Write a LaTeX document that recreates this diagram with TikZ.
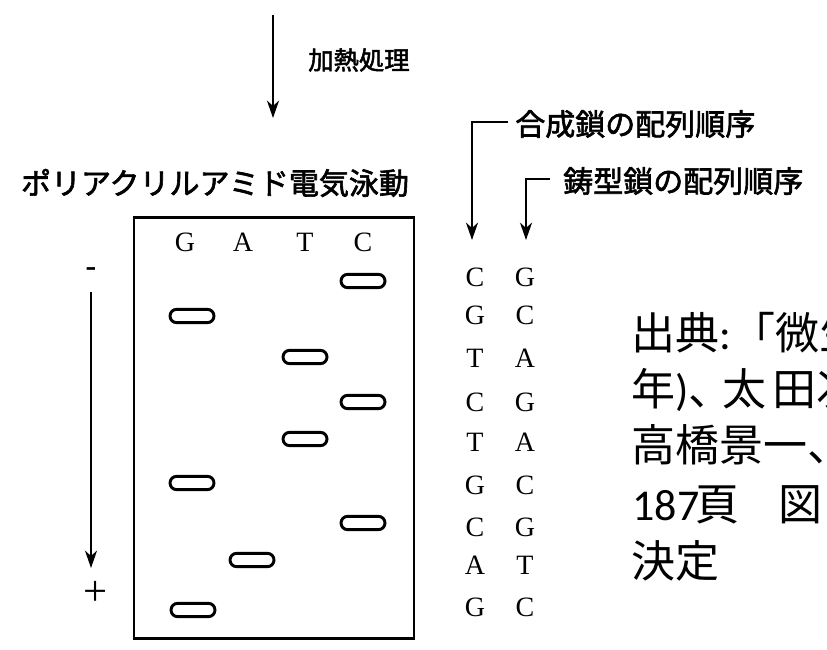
\documentclass[tikz,border=0pt]{standalone}
\usepackage{fontspec}
\usetikzlibrary{arrows.meta}
\newfontfamily\cjk{Noto Sans CJK JP}
\newfontfamily\cjkb[FakeBold=2]{Noto Sans CJK JP}
\newfontfamily\carl{Carlito}
\newfontfamily\ser{Liberation Serif}
\begin{document}
\begin{tikzpicture}[x=0.75pt,y=-0.75pt,
  jp/.style={font=\cjkb\fontsize{22.5pt}{27pt}\selectfont, inner sep=0pt},
  jps/.style={font=\cjkb\fontsize{19pt}{23pt}\selectfont, inner sep=0pt},
  seq/.style={font=\ser\fontsize{21pt}{25pt}\selectfont, inner sep=0pt},
  cite/.style={font=\cjk\fontsize{33pt}{40pt}\selectfont, inner sep=0pt, anchor=base west},
  arr/.style={line width=1.6pt, -{Stealth[length=13pt,width=9pt,inset=4pt]}},
  gelbox/.style={draw, line width=2.2pt, minimum width=210pt, minimum height=316pt, inner sep=0pt},
  band/.style={draw, line width=2.2pt, rounded corners=5pt, minimum width=33pt, minimum height=10pt, inner sep=0pt}
]
\clip (0,0) rectangle (827,649);
\fill[white] (0,0) rectangle (827,649);

% top arrow
\coordinate (ts) at (273,15);
\coordinate (te) at (273,118);
\draw[arr] (ts) -- (te);
\node[jps, anchor=west] (heat) at (308,60) {加熱処理};

\node[jp] (page) at (215,183) {ポリアクリルアミド電気泳動};

% gel
\node[gelbox] (gel) at (274,428) {};
\node[seq] (lG) at (185,242) {G};
\node[seq] (lA) at (243,242) {A};
\node[seq] (lT) at (305,242) {T};
\node[seq] (lC) at (363,242) {C};

\foreach \bx/\by [count=\i] in {363/281,192/316,305/357,363/402,305/439,192/483,363/523,252/560,193/610}
  \node[band] (b\i) at (\bx,\by) {};

% direction arrow
\node[font=\ser\bfseries\fontsize{24pt}{28pt}\selectfont, inner sep=0pt] (minus) at (91,272) {-};
\node[font=\ser\fontsize{32pt}{36pt}\selectfont, inner sep=0pt] (plus) at (96,593) {+};
\coordinate (ds) at (91,292);
\coordinate (de) at (91,568);
\draw[arr] (ds) -- (de);

% sequences
\foreach \a/\b/\yy [count=\i] in {C/G/277,G/C/315,T/A/358,C/G/402,T/A/442,G/C/485,C/G/527,A/T/565,G/C/607}{
  \node[seq] (s\i) at (475,\yy) {\a};
  \node[seq] (t\i) at (525,\yy) {\b};
}

\node[jp, anchor=west] (syn) at (515,124) {合成鎖の配列順序};
\node[jp, anchor=west] (tmp) at (563,181) {鋳型鎖の配列順序};
\coordinate (a1) at (508,122);
\coordinate (a1t) at (472,240);
\draw[arr] (a1) -| (a1t);
\coordinate (a2) at (550,179);
\coordinate (a2t) at (526,240);
\draw[arr] (a2) -| (a2t);

% citation
\node[cite] (c1) at (631,349) {出典{\carl :}「微生};
\node[cite] (c2) at (631,405) {年{\carl )}、\kern-7.5pt 太\kern4.5pt 田次};
\node[cite] (c3) at (631,461) {高橋景一、};
\node[cite] (c4) at (631,520) {{\carl\kern1pt 187}\kern-3pt 頁　\kern-4pt 図};
\node[cite] (c5) at (631,577) {決定};
\end{tikzpicture}
\end{document}
